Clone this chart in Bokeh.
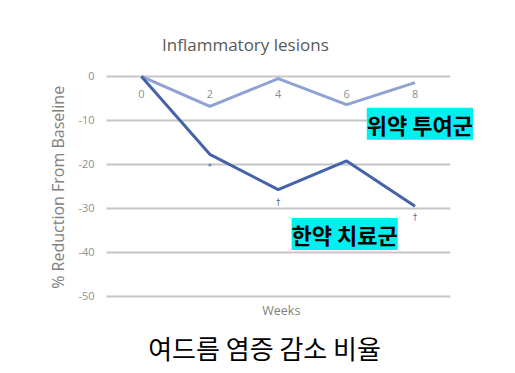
import math
from bokeh.plotting import figure
from bokeh.models import Range1d, Label, ColumnDataSource
from bokeh.core.properties import value
from bokeh.embed import file_html
from bokeh.resources import INLINE

weeks = [0, 2, 4, 6, 8]
placebo = [0, -6.8, -0.5, -6.4, -1.4]
herbal = [0, -17.7, -25.7, -19.2, -29.5]
y_ticks = [0, -10, -20, -30, -40, -50]
y_tick_labels = ["0", "-10", "-20", "-30", "-40", "-50"]
x_tick_labels = ["0", "2", "4", "6", "8"]
sig_weeks = [2, 4, 8]
sig_marks = ["*", "†", "†"]
sig_y = [-20.6, -28.6, -32.0]

chart_title = "Inflammatory lesions"
y_label = "% Reduction From Baseline"
x_label = "Weeks"
placebo_name = "위약 투여군"
herbal_name = "한약 치료군"
caption = "여드름 염증 감소 비율"

# axis extents (data units) where the grid lines start and end
x_lo, x_hi = -1.02, 9.03

W, H = 499, 369
p = figure(width=W, height=H, output_backend="svg", toolbar_location=None,
           x_range=Range1d(-4.12, 10.47), y_range=Range1d(-66.6, 17.27),
           min_border=0)
p.outline_line_color = None
p.background_fill_color = "white"
p.border_fill_color = "white"
p.axis.visible = False
p.grid.visible = False

# grid lines
p.segment(x0=[x_lo] * len(y_ticks), x1=[x_hi] * len(y_ticks), y0=y_ticks, y1=y_ticks,
          line_color="#c6c6c6", line_width=2)

# y tick labels
ysrc = ColumnDataSource(dict(x=[x_lo] * len(y_ticks), y=y_ticks, t=y_tick_labels))
p.text(x="x", y="y", text="t", source=ysrc, text_align="right", text_baseline="middle",
       x_offset=-12, text_color="#8f8f8f", text_font=value("Open Sans"), text_font_size="11px")

p.line(weeks, placebo, line_color="#8FA2D4", line_width=3)
p.line(weeks, herbal, line_color="#4563AA", line_width=3)

# x tick labels (drawn just under the zero line)
src = ColumnDataSource(dict(x=weeks, y=[0] * len(weeks), t=x_tick_labels))
p.text(x="x", y="y", text="t", source=src, text_align="center", text_baseline="middle",
       y_offset=18, text_color="#8f8f8f", text_font=value("Open Sans"), text_font_size="11px")

sig = ColumnDataSource(dict(x=sig_weeks, y=sig_y, t=sig_marks))
p.text(x="x", y="y", text="t", source=sig, text_align="center", text_baseline="middle",
       text_color="#4563AA", text_font=value("DejaVu Sans"), text_font_size="8px")

p.add_layout(Label(x=3.04, y=7.27, text=chart_title,
                   text_align="center", text_baseline="middle", text_color="#595959",
                   text_font="Open Sans", text_font_size="17px"))
p.add_layout(Label(x=-2.43, y=-25.2, text=y_label, angle=math.pi / 2,
                   text_align="center", text_baseline="middle", text_color="#808080",
                   text_font="Open Sans", text_font_size="16px"))
p.add_layout(Label(x=4.09, y=-53.2, text=x_label,
                   text_align="center", text_baseline="middle", text_color="#808080",
                   text_font="Open Sans", text_font_size="12.5px"))
p.add_layout(Label(x=3.60, y=-61.6, text=caption,
                   text_align="center", text_baseline="middle", text_color="black",
                   text_font="Noto Sans CJK KR", text_font_size="26px"))

p.add_layout(Label(x=6.59, y=-10.73, text=placebo_name, text_align="left", text_baseline="middle",
                   text_color="black", text_font="Noto Sans CJK KR", text_font_size="22px",
                   text_font_style="bold", background_fill_color="#00F0F0", padding=0))
p.add_layout(Label(x=4.39, y=-35.8, text=herbal_name, text_align="left", text_baseline="middle",
                   text_color="black", text_font="Noto Sans CJK KR", text_font_size="22px",
                   text_font_style="bold", background_fill_color="#00F0F0", padding=0))

open("out.html", "w").write(file_html(p, INLINE))
